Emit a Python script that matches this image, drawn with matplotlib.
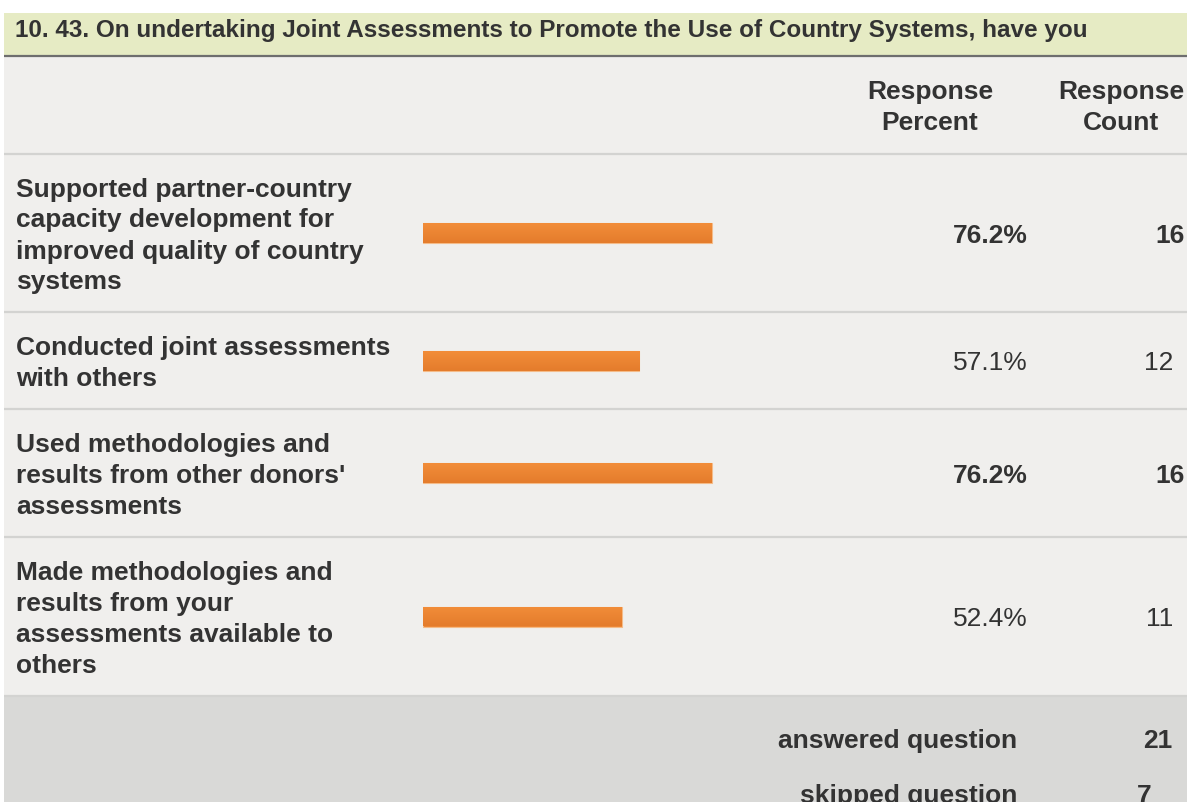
import matplotlib.pyplot as plt
from matplotlib.patches import Rectangle
from matplotlib.colors import LinearSegmentedColormap
import numpy as np

plt.rcParams['font.family'] = ['Liberation Sans', 'DejaVu Sans']

# survey results
title = "10. 43. On undertaking Joint Assessments to Promote the Use of Country Systems, have you"
answers = [
    ["Supported partner-country", "capacity development for", "improved quality of country", "systems"],
    ["Conducted joint assessments", "with others"],
    ["Used methodologies and", "results from other donors'", "assessments"],
    ["Made methodologies and", "results from your", "assessments available to", "others"],
]
percents = [76.2, 57.1, 76.2, 52.4]
counts = [16, 12, 16, 11]
answered = 21
skipped = 7

# layout in pixels
W, H = 1187, 803
row_edges = [155, 313, 410, 538, 697]
bar_x0, bar_full = 423, 379
txt = '#333333'
fs = 19
dy = 2  # nudge text down to sit like html baseline

fig = plt.figure(figsize=(W / 100, H / 100), dpi=100)
fig.patch.set_facecolor('white')
ax = fig.add_axes([0, 0, 1, 1])
ax.set_xlim(0, W)
ax.set_ylim(H, 0)
ax.axis('off')

# panels
ax.add_patch(Rectangle((4, 14), W, 42, color='#e6ebc4', lw=0))
ax.add_patch(Rectangle((4, 58), W, row_edges[-1] - 58, color='#f0efed', lw=0))
ax.add_patch(Rectangle((4, row_edges[-1]), W, H, color='#d9d9d7', lw=0))
ax.plot([4, W], [57, 57], color='#6e6e6e', lw=1.6, solid_capstyle='butt')
for y in row_edges:
    ax.plot([4, W], [y, y], color='#d3d3d1', lw=1.6, solid_capstyle='butt')

ax.text(15, 28 + dy, title, fontsize=17.5, fontweight='bold', color=txt, va='center', ha='left')

# column headers
ax.text(930, 90 + dy, "Response", fontsize=fs, fontweight='bold', color=txt, ha='center', va='center')
ax.text(930, 121 + dy, "Percent", fontsize=fs, fontweight='bold', color=txt, ha='center', va='center')
ax.text(1121, 90 + dy, "Response", fontsize=fs, fontweight='bold', color=txt, ha='center', va='center')
ax.text(1121, 121 + dy, "Count", fontsize=fs, fontweight='bold', color=txt, ha='center', va='center')

top = max(percents)
centers = []
for i, lines in enumerate(answers):
    mid = (row_edges[i] + row_edges[i + 1]) / 2
    centers.append(mid)
    n = len(lines)
    for j, line in enumerate(lines):
        y = mid + (j - (n - 1) / 2) * 31 + dy
        ax.text(16, y, line, fontsize=fs, fontweight='bold', color=txt, ha='left', va='center')
    bold = percents[i] == top
    w = 'bold' if bold else 'normal'
    ax.text(1028, mid + dy, f"{percents[i]:.1f}%", fontsize=fs, fontweight=w, color=txt,
            ha='right', va='center')
    ax.text(1185 if bold else 1173, mid + dy, str(counts[i]), fontsize=fs, fontweight=w, color=txt,
            ha='right', va='center')

# footer
ax.text(1017, 739 + dy, "answered question", fontsize=fs, fontweight='bold', color=txt, ha='right', va='center')
ax.text(1172, 739 + dy, str(answered), fontsize=fs, fontweight='bold', color=txt, ha='right', va='center')
ax.text(1017, 794 + dy, "skipped question", fontsize=fs, fontweight='bold', color=txt, ha='right', va='center')
ax.text(1152, 794 + dy, str(skipped), fontsize=fs, fontweight='bold', color=txt, ha='right', va='center')

# bars on a 0-100 scale
bax = fig.add_axes([bar_x0 / W, 0, bar_full / W, 1])
bax.axis('off')
bax.patch.set_alpha(0)
bars = bax.barh(centers, percents, height=20, color='#ec8533', edgecolor='#f4bb88', lw=0.8)
grad = np.linspace(0, 1, 50).reshape(-1, 1)
cmap = LinearSegmentedColormap.from_list('bar', ['#f28d39', '#e47c2c'])
for b, c, p in zip(bars, centers, percents):
    im = bax.imshow(grad, cmap=cmap, aspect='auto', extent=(0, p, c + 10, c - 10), zorder=1)
    im.set_clip_path(b)
bax.set_xlim(0, 100)
bax.set_ylim(H, 0)

fig.savefig('out.png', dpi=100)
